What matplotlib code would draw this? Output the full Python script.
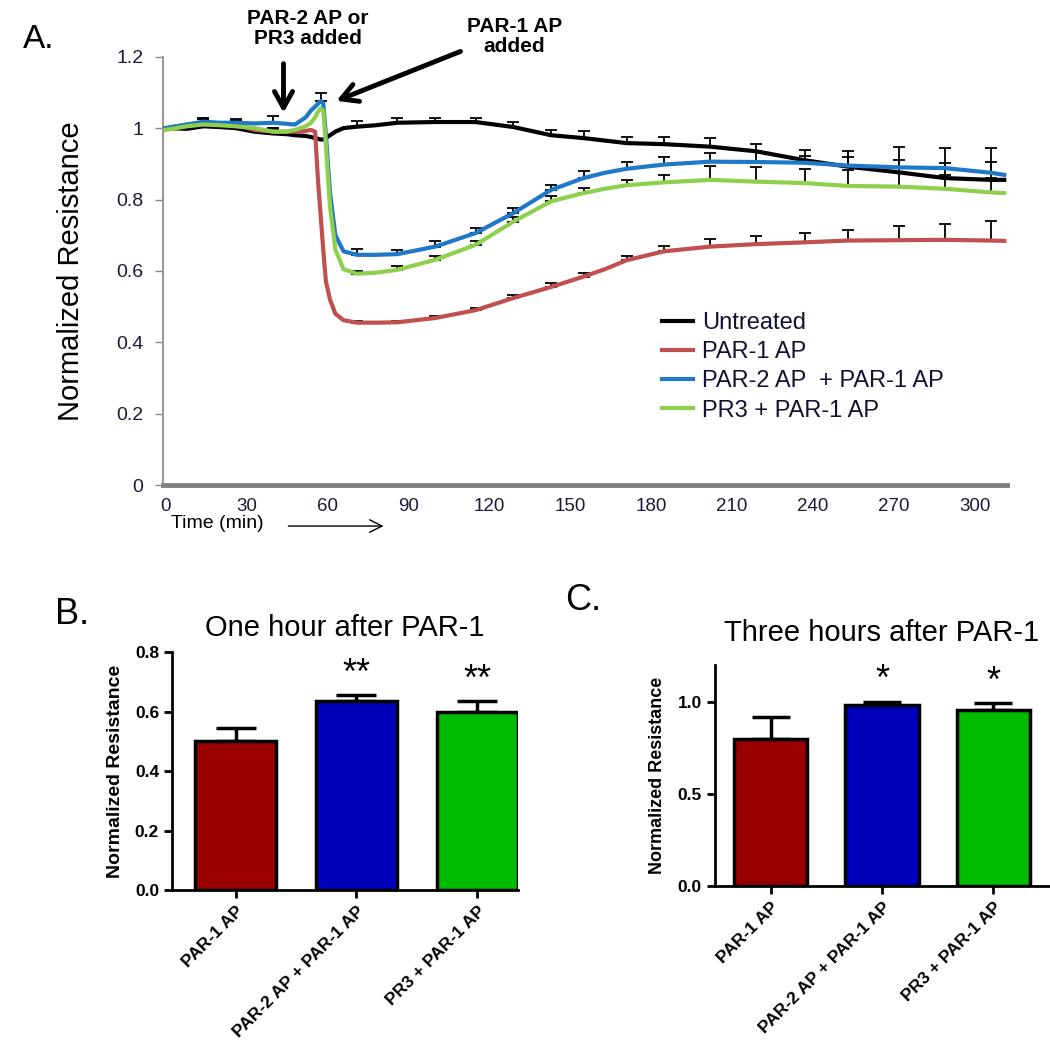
import numpy as np
import matplotlib
matplotlib.use("Agg")
import matplotlib.pyplot as plt

plt.rcParams['font.family'] = ['Liberation Sans', 'DejaVu Sans']

# ---- panel A: time course ----
time_min = [0, 8, 14, 20, 26, 33, 40, 45, 48, 52, 54, 55.5, 56.5, 57.5, 58.5, 59.5, 61, 63, 66, 71,
            78, 86, 100, 115, 129, 143, 155, 163, 171, 185, 202, 219, 237, 253, 272, 289, 306, 311]

untreated = [1.0, 0.998, 1.005, 1.003, 1.0, 0.99, 0.985, 0.983, 0.98, 0.978, 0.975, 0.972, 0.97, 0.968,
             0.968, 0.972, 0.98, 0.99, 1.0, 1.004, 1.008, 1.015, 1.017, 1.017, 1.003, 0.98, 0.972, 0.965,
             0.958, 0.955, 0.948, 0.935, 0.91, 0.892, 0.876, 0.86, 0.855, 0.855]
par1 = [1.0, 1.01, 1.015, 1.012, 1.01, 0.995, 0.99, 0.99, 0.99, 0.992, 0.995, 0.99, 0.86, 0.76, 0.66,
        0.57, 0.52, 0.48, 0.462, 0.455, 0.455, 0.456, 0.468, 0.49, 0.524, 0.555, 0.584, 0.605, 0.63,
        0.655, 0.668, 0.675, 0.68, 0.685, 0.686, 0.687, 0.685, 0.684]
par2_par1 = [1.0, 1.01, 1.018, 1.015, 1.015, 1.013, 1.015, 1.012, 1.01, 1.03, 1.05, 1.06, 1.068, 1.075,
             1.07, 0.98, 0.82, 0.70, 0.655, 0.645, 0.645, 0.647, 0.668, 0.706, 0.762, 0.827, 0.86, 0.875,
             0.886, 0.898, 0.906, 0.905, 0.903, 0.895, 0.89, 0.888, 0.875, 0.869]
pr3_par1 = [0.995, 1.005, 1.01, 1.008, 1.005, 1.0, 0.99, 0.99, 0.995, 1.005, 1.015, 1.03, 1.045, 1.055,
            1.05, 0.95, 0.78, 0.66, 0.605, 0.592, 0.595, 0.603, 0.631, 0.673, 0.738, 0.795, 0.818, 0.83,
            0.84, 0.848, 0.855, 0.85, 0.846, 0.838, 0.836, 0.83, 0.82, 0.818]

# upper error (0 = no bar drawn)
untreated_err = [0, 0, 0.02, 0, 0.02, 0, 0.015, 0, 0, 0, 0, 0, 0, 0, 0, 0, 0, 0, 0, 0.015, 0, 0.012,
                 0.012, 0.012, 0.015, 0.015, 0.02, 0, 0.018, 0.02, 0.025, 0.02, 0.03, 0.045, 0.07, 0.085, 0.09, 0]
par1_err = [0, 0, 0.01, 0, 0.01, 0, 0.01, 0, 0, 0, 0, 0, 0, 0, 0, 0, 0, 0, 0, 0.005, 0, 0.005,
            0.005, 0.006, 0.008, 0.01, 0.01, 0, 0.012, 0.015, 0.02, 0.024, 0.026, 0.03, 0.04, 0.045, 0.055, 0]
par2_par1_err = [0, 0, 0.01, 0, 0.01, 0, 0.02, 0, 0, 0, 0, 0, 0, 0.022, 0, 0, 0, 0, 0, 0.015, 0, 0.012,
                 0.015, 0.015, 0.015, 0.015, 0.02, 0, 0.02, 0.02, 0.025, 0.03, 0.02, 0.025, 0.02, 0.015, 0.03, 0]
pr3_par1_err = [0, 0, 0.006, 0, 0.006, 0, 0.006, 0, 0, 0, 0, 0, 0, 0, 0, 0, 0, 0, 0, 0.008, 0, 0.01,
                0.01, 0.012, 0.012, 0.015, 0.015, 0, 0.015, 0.02, 0.04, 0.04, 0.04, 0.045, 0.04, 0.04, 0.04, 0]

series_labels = ["Untreated", "PAR-1 AP", "PAR-2 AP  + PAR-1 AP", "PR3 + PAR-1 AP"]
series_colors = ["#000000", "#C0504D", "#1F78C8", "#8ED04E"]

# ---- panels B and C: bars ----
groups = ["PAR-1 AP", "PAR-2 AP + PAR-1 AP", "PR3 + PAR-1 AP"]
one_hour = [0.50, 0.635, 0.60]
one_hour_err = [0.045, 0.02, 0.035]
one_hour_sig = ["", "**", "**"]
three_hours = [0.80, 0.98, 0.955]
three_hours_err = [0.115, 0.02, 0.035]
three_hours_sig = ["", "*", "*"]
bar_colors = ["#990000", "#0000BB", "#00BB00"]

fig = plt.figure(figsize=(10.5, 10.5), dpi=100)

# panel A
ax = fig.add_axes([0.155, 0.538, 0.804, 0.408])
t = np.array(time_min)
for vals, errs, lab, col in zip([untreated, par1, par2_par1, pr3_par1],
                                [untreated_err, par1_err, par2_par1_err, pr3_par1_err],
                                series_labels, series_colors):
    vals = np.array(vals)
    errs = np.array(errs)
    sel = errs > 0
    ax.errorbar(t[sel], vals[sel], yerr=[np.zeros(sel.sum()), errs[sel]], fmt='none',
                ecolor='black', elinewidth=1.3, capsize=4, capthick=1.3, zorder=2)
    ax.plot(t, vals, color=col, lw=3, label=lab, zorder=3)

ax.set_xlim(-1, 312)
ax.set_ylim(0, 1.2)
ax.set_yticks([0, 0.2, 0.4, 0.6, 0.8, 1.0, 1.2])
ax.set_yticklabels(["0", "0.2", "0.4", "0.6", "0.8", "1", "1.2"])
ax.set_xticks(range(0, 301, 30))
ax.tick_params(axis='y', labelsize=14, colors='#888888', labelcolor='#1a1a3a', length=6, width=1, pad=8)
ax.tick_params(axis='x', length=0, pad=9)
for lbl in ax.get_xticklabels():
    lbl.set_fontsize(13.5)
    lbl.set_color('#1a1a3a')
for s in ['top', 'right']:
    ax.spines[s].set_visible(False)
ax.spines['left'].set_color('#999999')
ax.spines['left'].set_linewidth(1.5)
ax.spines['bottom'].set_color('#808080')
ax.spines['bottom'].set_linewidth(3.5)
ax.set_ylabel("Normalized Resistance", fontsize=21, labelpad=22)

ax.legend(loc='upper left', bbox_to_anchor=(0.566, 0.453), frameon=False, fontsize=17,
          handlelength=1.3, handletextpad=0.4, labelspacing=0.3, labelcolor='#111133')

fig.text(0.022, 0.962, "A.", fontsize=24, va='center')
fig.text(0.293, 0.973, "PAR-2 AP or\nPR3 added", fontsize=15, fontweight='bold',
         ha='center', va='center', linespacing=1.1)
fig.text(0.49, 0.965, "PAR-1 AP\nadded", fontsize=15, fontweight='bold',
         ha='center', va='center', linespacing=1.1)
arrow_style = '->,head_length=9,head_width=5'
fig.add_artist(matplotlib.patches.FancyArrowPatch((0.270, 0.942), (0.270, 0.890), transform=fig.transFigure,
               arrowstyle=arrow_style, color='black', lw=3.5, mutation_scale=1.3))
fig.add_artist(matplotlib.patches.FancyArrowPatch((0.441, 0.952), (0.318, 0.903), transform=fig.transFigure,
               arrowstyle=arrow_style, color='black', lw=3.5, mutation_scale=1.3))
fig.text(0.163, 0.501, "Time (min)", fontsize=14, va='center')
fig.add_artist(matplotlib.patches.FancyArrowPatch((0.272, 0.499), (0.368, 0.499), transform=fig.transFigure,
               arrowstyle='->,head_length=6,head_width=3', color='black', lw=1, mutation_scale=1.5))


def bar_panel(rect, vals, errs, sig, ylim, yticks, ytlabels, xlim, width, title, title_y, ylab_size):
    bx = fig.add_axes(rect)
    x = np.arange(len(vals))
    bx.bar(x, vals, width=width, color=bar_colors, edgecolor='black', linewidth=2.5, zorder=2)
    bx.errorbar(x, vals, yerr=[np.zeros(len(vals)), errs], fmt='none', ecolor='black',
                elinewidth=2.5, capsize=width * 21, capthick=2.5, zorder=1)
    for xi, v, e, s in zip(x, vals, errs, sig):
        if s:
            bx.text(xi, v + e + 0.015 * ylim[1], s, ha='center', va='bottom', fontsize=26)
    bx.set_xlim(*xlim)
    bx.set_ylim(*ylim)
    bx.set_yticks(yticks)
    bx.set_yticklabels(ytlabels, fontweight='bold', fontsize=12.5)
    bx.set_xticks(x)
    bx.set_xticklabels(groups, rotation=45, ha='right', rotation_mode='anchor',
                       fontweight='bold', fontsize=12.5)
    bx.tick_params(width=2, length=6)
    for s in ['top', 'right']:
        bx.spines[s].set_visible(False)
    for s in ['left', 'bottom']:
        bx.spines[s].set_linewidth(2)
    bx.set_ylabel("Normalized Resistance", fontweight='bold', fontsize=ylab_size, labelpad=8)
    fig.text(rect[0] + rect[2] / 2, title_y, title, fontsize=21, ha='center', va='center')
    return bx


bar_panel([0.164, 0.152, 0.329, 0.227], one_hour, one_hour_err, one_hour_sig,
          (0, 0.8), [0, 0.2, 0.4, 0.6, 0.8], ["0.0", "0.2", "0.4", "0.6", "0.8"],
          (-0.525, 2.335), 0.67, "One hour after PAR-1", 0.402, 14)
bar_panel([0.681, 0.156, 0.318, 0.211], three_hours, three_hours_err, three_hours_sig,
          (0, 1.2), [0, 0.5, 1.0], ["0.0", "0.5", "1.0"],
          (-0.5, 2.5), 0.66, "Three hours after PAR-1", 0.397, 13)
fig.text(0.052, 0.415, "B.", fontsize=26, va='center')
fig.text(0.538, 0.428, "C.", fontsize=26, va='center')

fig.savefig("out.png", dpi=100)
